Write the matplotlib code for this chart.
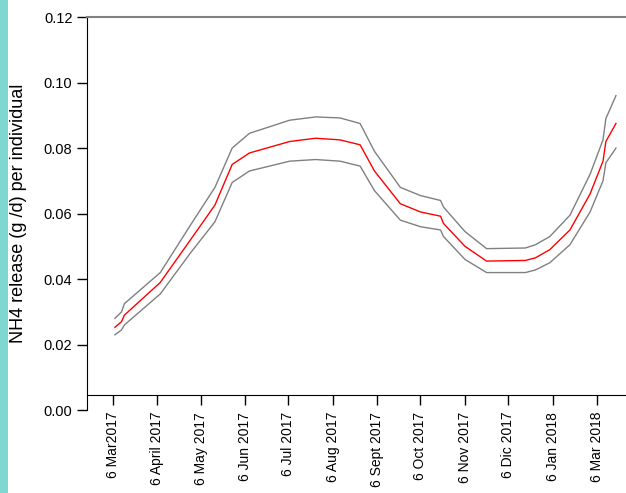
import matplotlib
matplotlib.use("Agg")
import matplotlib.pyplot as plt
from matplotlib.patches import Rectangle

# days since 6 Mar 2017
days = [1.4, 6, 8, 33, 54, 71, 83, 95, 123, 141, 158, 172, 182, 200, 214, 228, 230,
        245, 260, 287, 294, 304, 318, 332, 341, 343, 350]
mean = [0.0253, 0.0270, 0.0290, 0.0390, 0.0520, 0.0626, 0.0750, 0.0785, 0.0820, 0.0830,
        0.0825, 0.0810, 0.0730, 0.0630, 0.0605, 0.0592, 0.0570, 0.0500, 0.0455, 0.0457,
        0.0465, 0.0490, 0.0550, 0.0660, 0.0760, 0.0820, 0.0875]
upper = [0.0280, 0.0300, 0.0325, 0.0420, 0.0565, 0.0680, 0.0800, 0.0845, 0.0885, 0.0895,
         0.0892, 0.0875, 0.0790, 0.0680, 0.0655, 0.0640, 0.0620, 0.0545, 0.0493, 0.0495,
         0.0505, 0.0530, 0.0595, 0.0720, 0.0825, 0.0890, 0.0960]
lower = [0.0230, 0.0245, 0.0260, 0.0355, 0.0480, 0.0575, 0.0695, 0.0730, 0.0760, 0.0765,
         0.0760, 0.0745, 0.0670, 0.0580, 0.0560, 0.0550, 0.0530, 0.0460, 0.0420, 0.0420,
         0.0428, 0.0450, 0.0505, 0.0605, 0.0700, 0.0755, 0.0800]
tick_days = [0, 31, 61, 92, 122, 153, 184, 214, 245, 275, 306, 337]
tick_labels = ["6 Mar2017", "6 April 2017", "6 May 2017", "6 Jun 2017", "6 Jul 2017",
               "6 Aug 2017", "6 Sept 2017", "6 Oct 2017", "6 Nov 2017", "6 Dic 2017",
               "6 Jan 2018", "6 Mar 2018"]
y_ticks = [0.00, 0.02, 0.04, 0.06, 0.08, 0.10, 0.12]

plt.rcParams["font.family"] = ["Liberation Sans", "DejaVu Sans"]
fig = plt.figure(figsize=(6.26, 4.93), dpi=100, facecolor="white")
fig.patches.append(Rectangle((0, 0), 8 / 626, 1, transform=fig.transFigure,
                             facecolor="#7fd8cf", edgecolor="none"))
ax = fig.add_axes([0.139, 0.168, 0.861, 0.7975])

ax.plot(days, upper, color="#808080", linewidth=1)
ax.plot(days, lower, color="#808080", linewidth=1)
ax.plot(days, mean, color="red", linewidth=1)

ax.set_xlim(-18, 357)
ax.set_ylim(0, 0.12)
ax.set_yticks(y_ticks)
ax.set_yticklabels([f"{v:.2f}" for v in y_ticks], fontsize=10.5)
ax.set_xticks(tick_days)
ax.set_xticklabels(tick_labels, fontsize=10.5)
ax.tick_params(axis="x", labelrotation=90)
ax.set_ylabel("NH4 release (g /d) per individual", fontsize=13, labelpad=12)

ax.spines["right"].set_visible(False)
ax.spines["top"].set_color("#808080")
ax.spines["top"].set_linewidth(1.5)
ax.spines["bottom"].set_position(("data", 0.0046))
ax.tick_params(direction="out", length=7, width=1, colors="black")
ax.tick_params(axis="x", pad=5)

fig.savefig("out.png", facecolor=fig.get_facecolor())
